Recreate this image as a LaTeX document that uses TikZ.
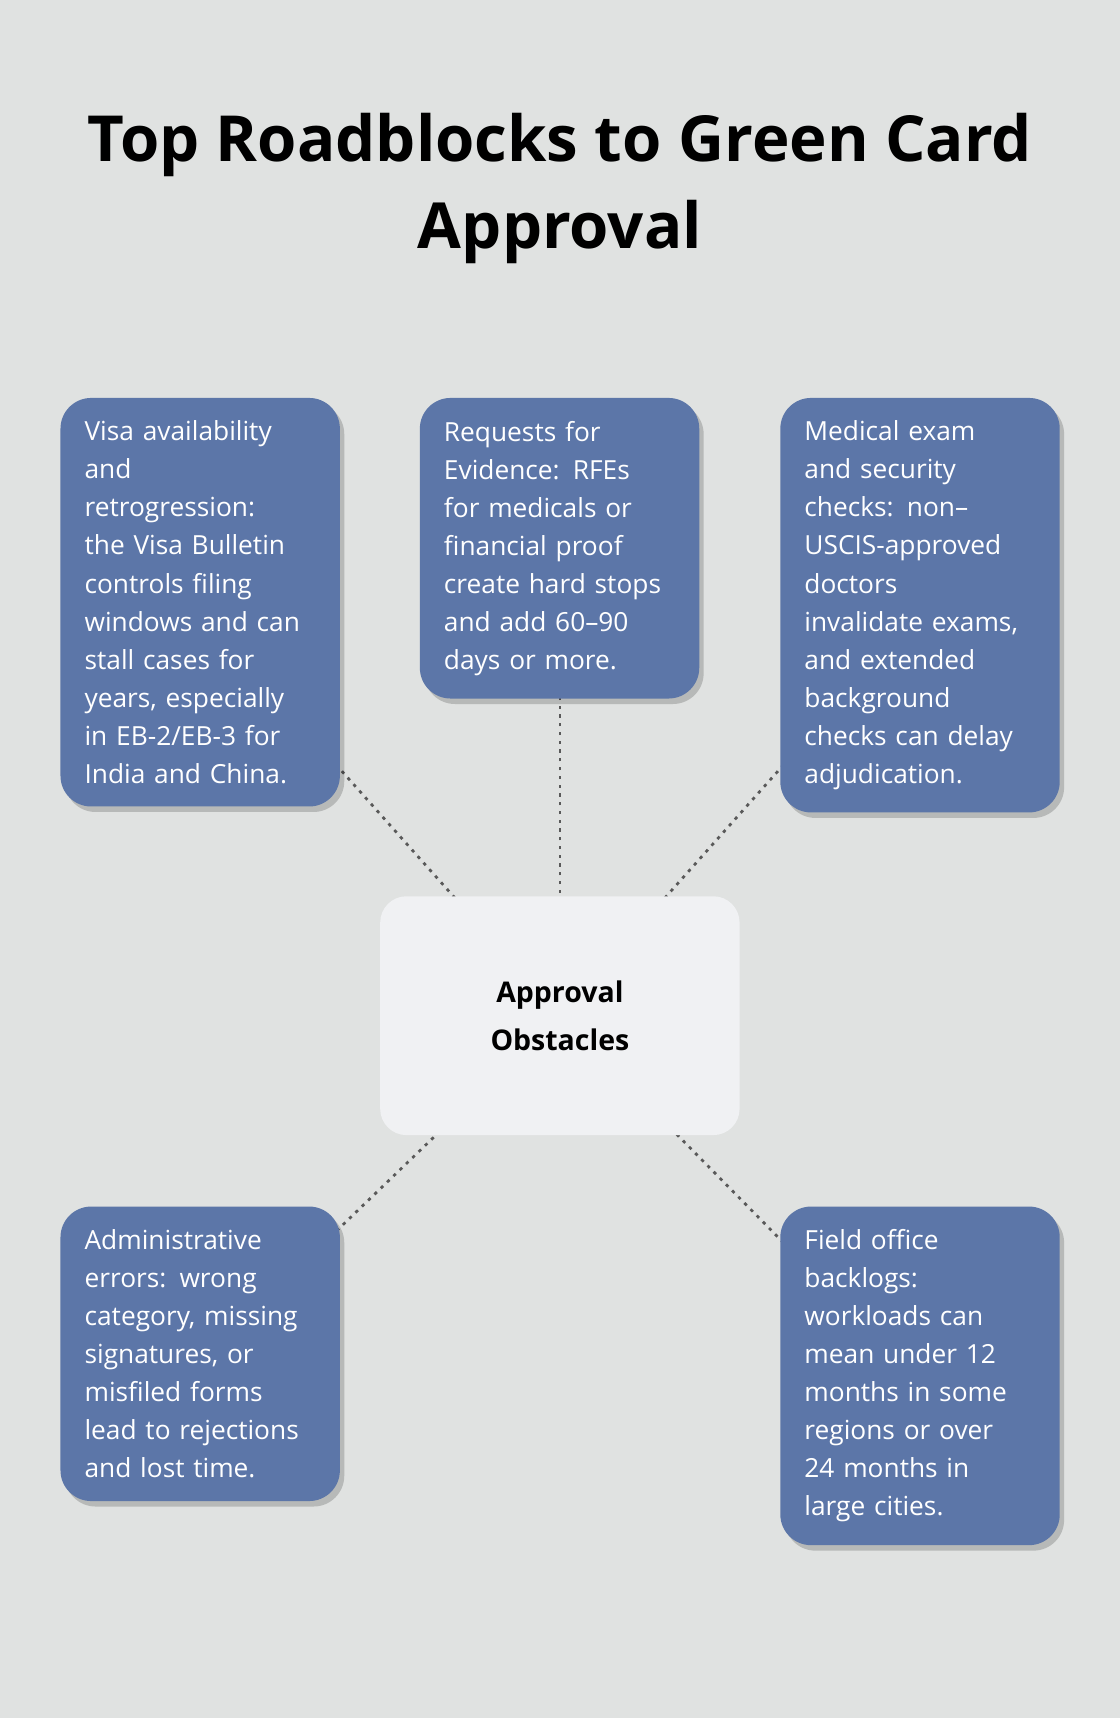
\documentclass[tikz,border=0pt]{standalone}
\usepackage{fontspec}
\setmainfont{Open Sans}
\usetikzlibrary{shadows}
\definecolor{bg}{HTML}{E0E2E1}
\definecolor{boxb}{HTML}{5C76A8}
\definecolor{cbox}{HTML}{F0F1F3}
\begin{document}
\begin{tikzpicture}[x=1pt,y=-1pt,
  blue/.style={fill=boxb,rounded corners=28pt,text=white,align=left,text width=211pt,
    inner xsep=22pt,inner ysep=21pt,anchor=north west,
    font=\fontsize{24}{34.7}\selectfont,
    drop shadow={shadow xshift=4pt,shadow yshift=-5pt,opacity=0.18,fill=black}},
  link/.style={draw=black!65,line width=2.5pt,dash pattern=on 3pt off 5pt}]
\fill[bg] (0,0) rectangle (1022,1568);
\useasboundingbox (0,0) rectangle (1022,1568);
\node[font=\fontsize{58}{80}\selectfont\bfseries,align=center] (title) at (511,172)
  {Top Roadblocks to Green Card\\Approval};
\coordinate (cc) at (511,927);
\coordinate (c1) at (182,558);
\coordinate (c2) at (511,506);
\coordinate (c3) at (840,558);
\coordinate (c4) at (182,1244);
\coordinate (c5) at (840,1261);
\foreach \c in {c1,c2,c3,c4,c5} \draw[link] (cc) -- (\c);
\node[blue] (b1) at (55,363) {Visa availability\\and\\retrogression:\\the Visa Bulletin\\controls filing\\windows and can\\stall cases for\\years, especially\\in EB-2/EB-3 for\\India and China.};
\node[blue] (b2) at (383,363) {Requests for\\Evidence: RFEs\\for medicals or\\financial proof\\create hard stops\\and add 60–90\\days or more.};
\node[blue] (b3) at (712,363) {Medical exam\\and security\\checks: non–\\USCIS-approved\\doctors\\invalidate exams,\\and extended\\background\\checks can delay\\adjudication.};
\node[blue] (b4) at (55,1101) {Administrative\\errors: wrong\\category, missing\\signatures, or\\misfiled forms\\lead to rejections\\and lost time.};
\node[blue] (b5) at (712,1101) {Field office\\backlogs:\\workloads can\\mean under 12\\months in some\\regions or over\\24 months in\\large cities.};
\node[fill=cbox,rounded corners=24pt,minimum width=328pt,minimum height=218pt,align=center,
  font=\fontsize{26}{44}\selectfont\bfseries] (center) at (cc) {Approval\\Obstacles};
\end{tikzpicture}
\end{document}
